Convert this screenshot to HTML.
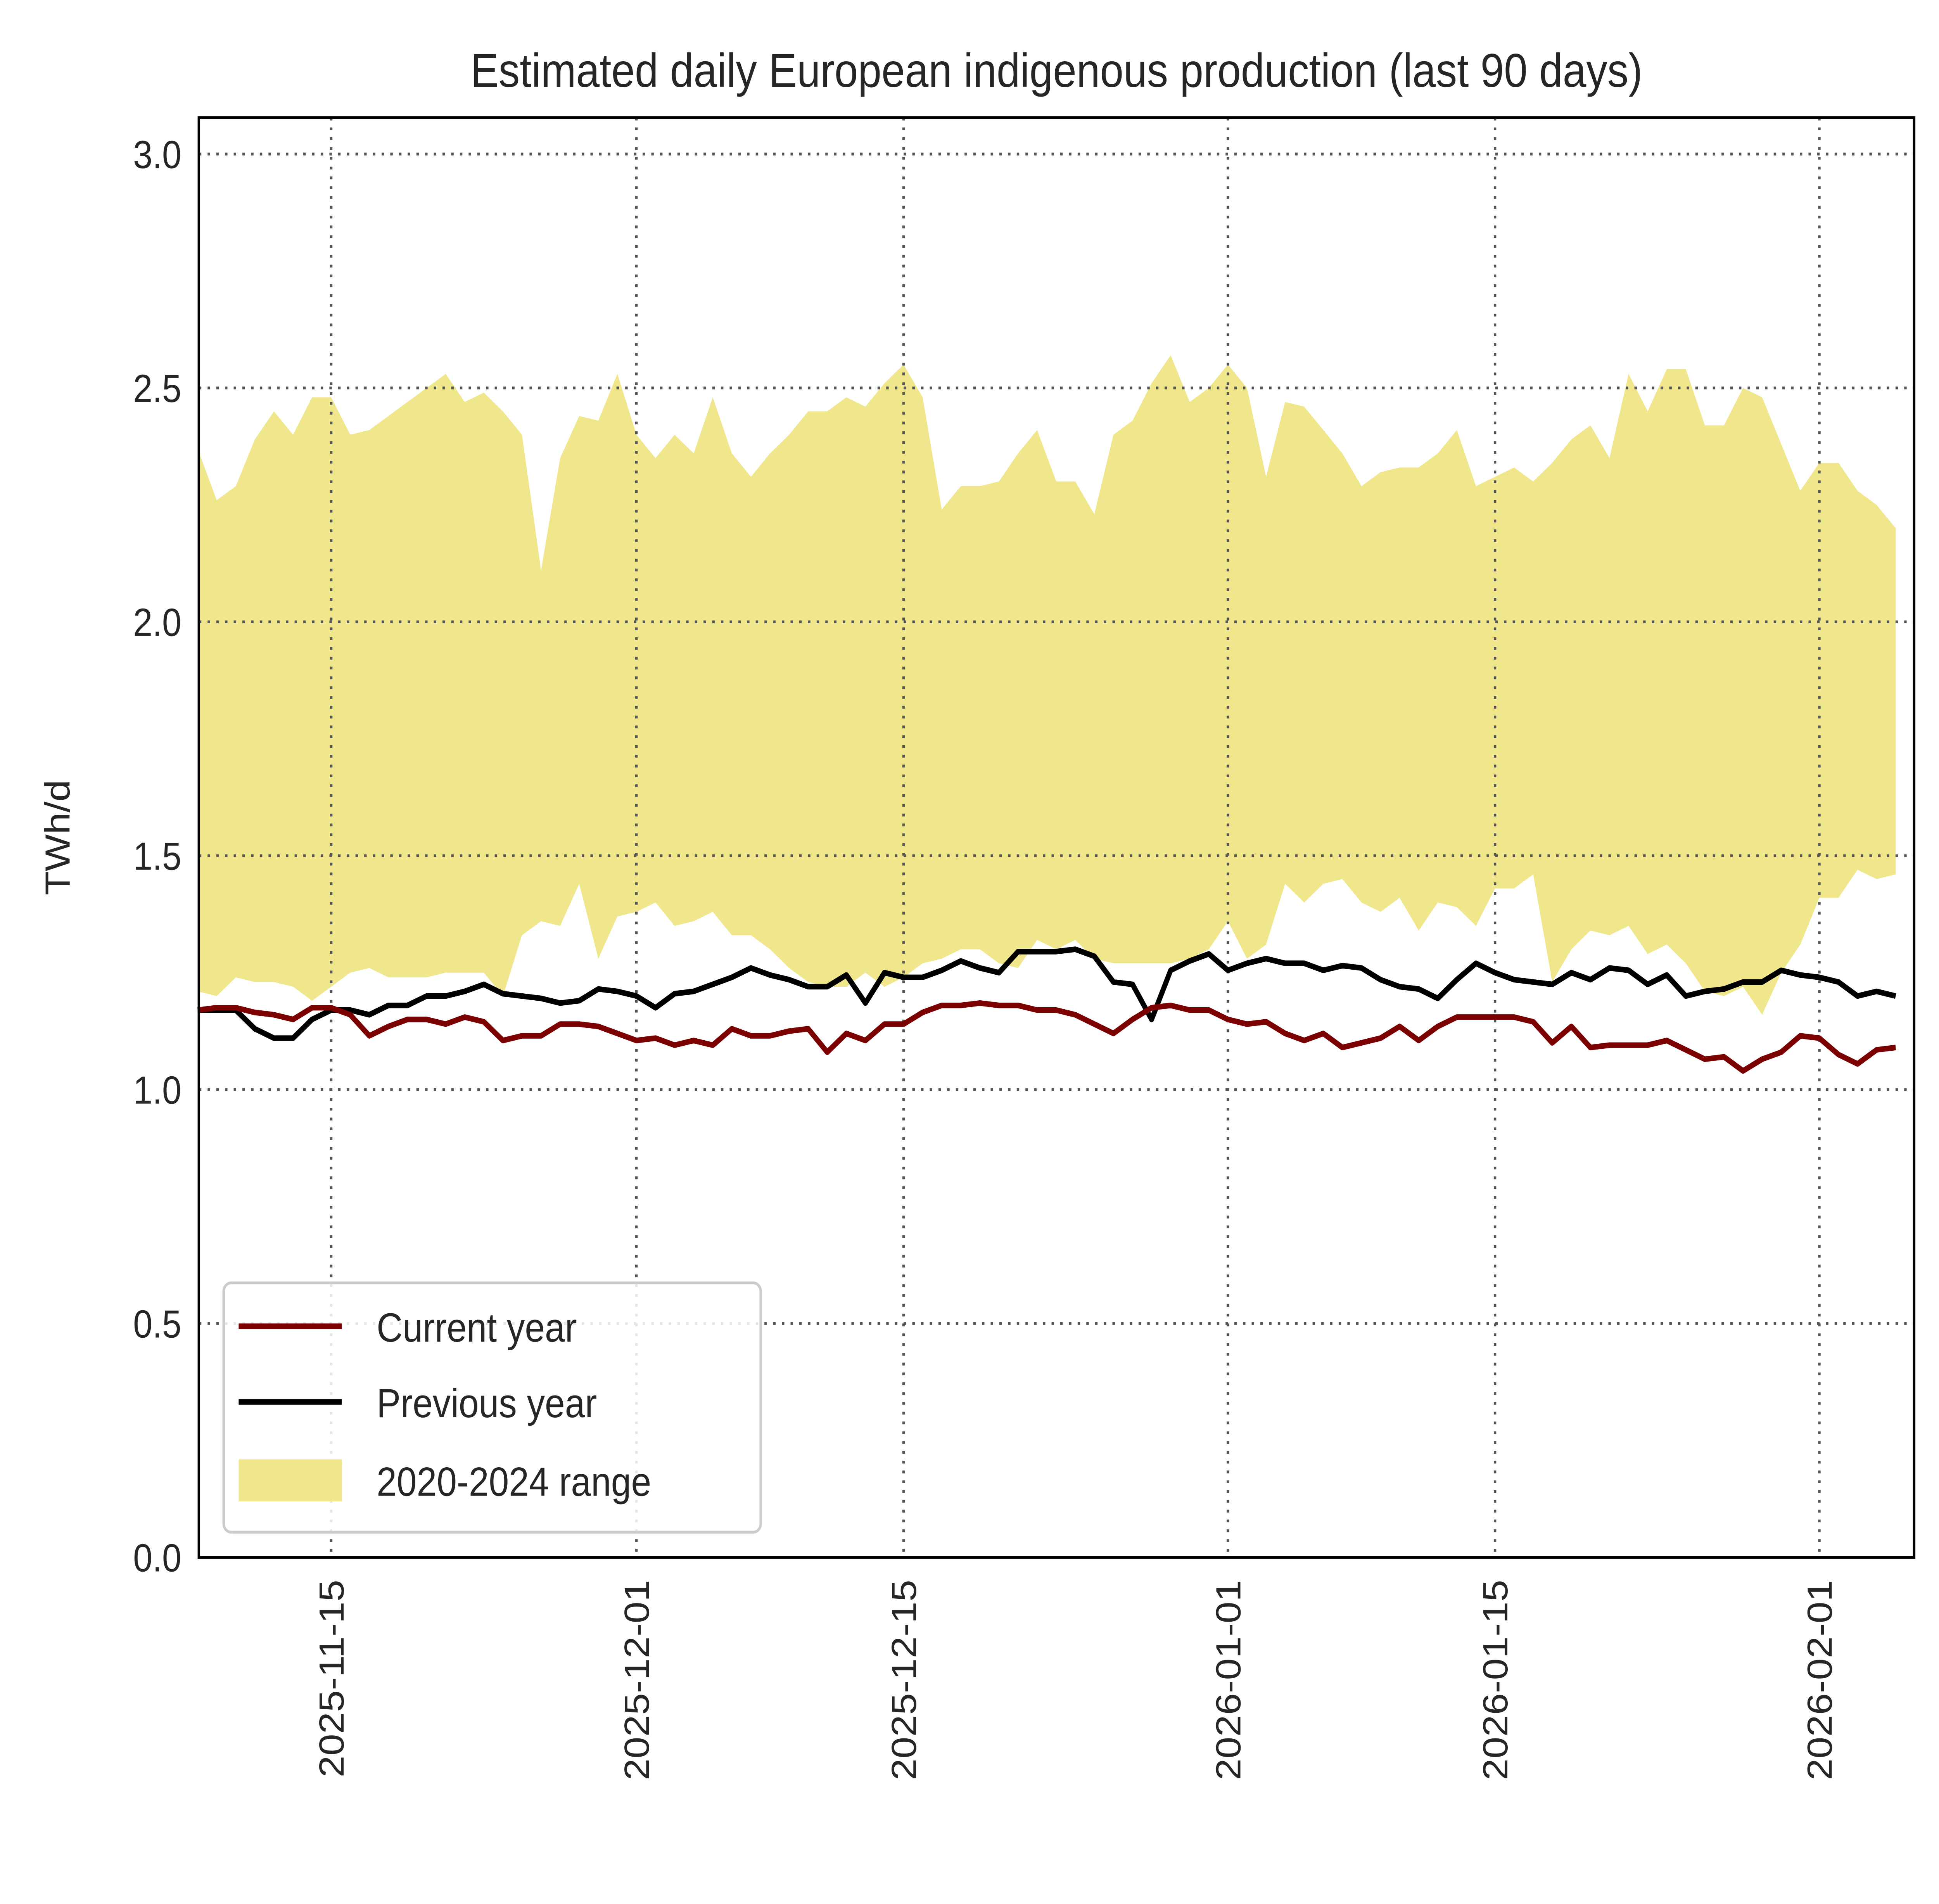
<!DOCTYPE html>
<html><head><meta charset="utf-8"><meta name="viewport" content="width=device-width, initial-scale=1"><style>
html,body{margin:0;padding:0;background:#fff;width:100%;height:100%;overflow:hidden}
svg{display:block;width:100vw;height:100vh;position:fixed;left:0;top:0}
text{font-family:"Liberation Sans",Arial,sans-serif;fill:#262626}
</style></head><body>
<svg id="chart" viewBox="0 0 1560 1359.5" preserveAspectRatio="none" xmlns="http://www.w3.org/2000/svg">
<rect width="1560" height="1360" fill="#fff"/>
<g id="band-g"></g>
<g id="grid-g"></g>
<g id="lines-g"></g>
<rect x="160" y="84" width="1380" height="1028" fill="none" stroke="#000" stroke-width="2"/>
<text x="850" y="62" font-size="34" text-anchor="middle">Estimated daily European indigenous production (last 90 days)</text>
<text transform="translate(56,598) rotate(-90)" font-size="28" text-anchor="middle">TWh/d</text>
<g id="ticks-g"></g>
<g>
<rect x="180" y="916" width="432" height="178" rx="6" fill="#fff" fill-opacity="0.85" stroke="#ccc" stroke-width="2"/>
<line x1="192" y1="947" x2="275" y2="947" stroke="#7b0000" stroke-width="4"/>
<text x="303" y="958" font-size="29">Current year</text>
<line x1="192" y1="1001" x2="275" y2="1001" stroke="#000" stroke-width="4"/>
<text x="303" y="1012" font-size="29">Previous year</text>
<rect x="192" y="1042" width="83" height="30" fill="#f0e68c"/>
<text x="303" y="1068" font-size="29">2020-2024 range</text>
</g>
</svg>
<script>
const current=[1.17,1.175,1.175,1.165,1.16,1.15,1.175,1.175,1.16,1.115,1.135,1.15,1.15,1.14,1.155,1.145,1.105,1.115,1.115,1.14,1.14,1.135,1.12,1.105,1.11,1.095,1.105,1.095,1.13,1.115,1.115,1.125,1.13,1.08,1.12,1.105,1.14,1.14,1.165,1.18,1.18,1.185,1.18,1.18,1.17,1.17,1.16,1.14,1.12,1.15,1.175,1.18,1.17,1.17,1.15,1.14,1.145,1.12,1.105,1.12,1.09,1.10,1.11,1.135,1.105,1.135,1.155,1.155,1.155,1.155,1.145,1.10,1.135,1.09,1.095,1.095,1.095,1.105,1.085,1.065,1.07,1.04,1.065,1.08,1.115,1.11,1.075,1.055,1.085,1.09];
const previous=[1.17,1.17,1.17,1.13,1.11,1.11,1.15,1.17,1.17,1.16,1.18,1.18,1.2,1.2,1.21,1.225,1.205,1.2,1.195,1.185,1.19,1.215,1.21,1.2,1.175,1.205,1.21,1.225,1.24,1.26,1.245,1.235,1.22,1.22,1.245,1.185,1.25,1.24,1.24,1.255,1.275,1.26,1.25,1.295,1.295,1.295,1.3,1.285,1.23,1.225,1.15,1.255,1.275,1.29,1.255,1.27,1.28,1.27,1.27,1.255,1.265,1.26,1.235,1.22,1.215,1.195,1.235,1.27,1.25,1.235,1.23,1.225,1.25,1.235,1.26,1.255,1.225,1.245,1.2,1.21,1.215,1.23,1.23,1.255,1.245,1.24,1.23,1.2,1.21,1.2];
const rangeHigh=[2.37,2.26,2.29,2.39,2.45,2.40,2.48,2.48,2.40,2.41,2.44,2.47,2.50,2.53,2.47,2.49,2.45,2.40,2.11,2.35,2.44,2.43,2.53,2.40,2.35,2.40,2.36,2.48,2.36,2.31,2.36,2.40,2.45,2.45,2.48,2.46,2.51,2.55,2.48,2.24,2.29,2.29,2.30,2.36,2.41,2.30,2.30,2.23,2.40,2.43,2.51,2.57,2.47,2.50,2.55,2.50,2.31,2.47,2.46,2.41,2.36,2.29,2.32,2.33,2.33,2.36,2.41,2.29,2.31,2.33,2.30,2.34,2.39,2.42,2.35,2.53,2.45,2.54,2.54,2.42,2.42,2.50,2.48,2.38,2.28,2.34,2.34,2.28,2.25,2.20];
const rangeLow=[1.21,1.20,1.24,1.23,1.23,1.22,1.19,1.22,1.25,1.26,1.24,1.24,1.24,1.25,1.25,1.25,1.20,1.33,1.36,1.35,1.44,1.28,1.37,1.38,1.40,1.35,1.36,1.38,1.33,1.33,1.30,1.26,1.23,1.22,1.22,1.25,1.22,1.24,1.27,1.28,1.30,1.30,1.27,1.26,1.32,1.30,1.32,1.28,1.27,1.27,1.27,1.27,1.28,1.30,1.36,1.28,1.31,1.44,1.40,1.44,1.45,1.40,1.38,1.41,1.34,1.40,1.39,1.35,1.43,1.43,1.46,1.23,1.30,1.34,1.33,1.35,1.29,1.31,1.27,1.21,1.20,1.22,1.16,1.25,1.31,1.41,1.41,1.47,1.45,1.46];
const yTicks=[0,0.5,1,1.5,2,2.5,3];
const xTickLabels=["2025-11-15","2025-12-01","2025-12-15","2026-01-01","2026-01-15","2026-02-01"];
const xTickDays=[7,23,37,54,68,85];

const NS="http://www.w3.org/2000/svg";
const X0=159, DX=15.35;
function xs(i){return X0+i*DX;}
function ys(v){return 1112-v*334;}
function mk(tag,attrs,parent){const e=document.createElementNS(NS,tag);for(const k in attrs)e.setAttribute(k,attrs[k]);parent.appendChild(e);return e;}

const bandG=document.getElementById('band-g');
const n=Math.min(rangeHigh.length,rangeLow.length);
let pts=[];
for(let i=0;i<n;i++)pts.push(xs(i)+','+ys(rangeHigh[i]));
for(let i=n-1;i>=0;i--)pts.push(xs(i)+','+ys(rangeLow[i]));
const band=mk('polygon',{points:pts.join(' '),fill:'#f0e68c'},bandG);



const gridG=document.getElementById('grid-g');
const ticksG=document.getElementById('ticks-g');
yTicks.forEach(v=>{
  const y=ys(v);
  if(v>0){const g=mk('line',{x1:160,x2:1540,y1:y,y2:y,stroke:'#555','stroke-width':2,'stroke-dasharray':'2,5'},gridG);
  
  }
  const t=mk('text',{x:146,y:y+10,'font-size':28,'text-anchor':'end'},ticksG);
  t.textContent=v.toFixed(1);
  
  
});
xTickDays.forEach((d,k)=>{
  const x=xs(d);
  const g=mk('line',{x1:x,x2:x,y1:84,y2:1112,stroke:'#555','stroke-width':2,'stroke-dasharray':'2,5'},gridG);
  
  
  const t=mk('text',{transform:`translate(${x+10},1128) rotate(-90)`,'font-size':28,'text-anchor':'end'},ticksG);
  t.textContent=xTickLabels[k];
  
  
});

const linesG=document.getElementById('lines-g');
function line(arr,color,name){
  const p=arr.map((v,i)=>xs(i)+','+ys(v)).join(' ');
  const e=mk('polyline',{points:p,fill:'none',stroke:color,'stroke-width':4,'stroke-linejoin':'round'},linesG);
  
  
}
line(previous,'#000','previous-year-line');
line(current,'#7b0000','current-year-line');
</script>
</body></html>
